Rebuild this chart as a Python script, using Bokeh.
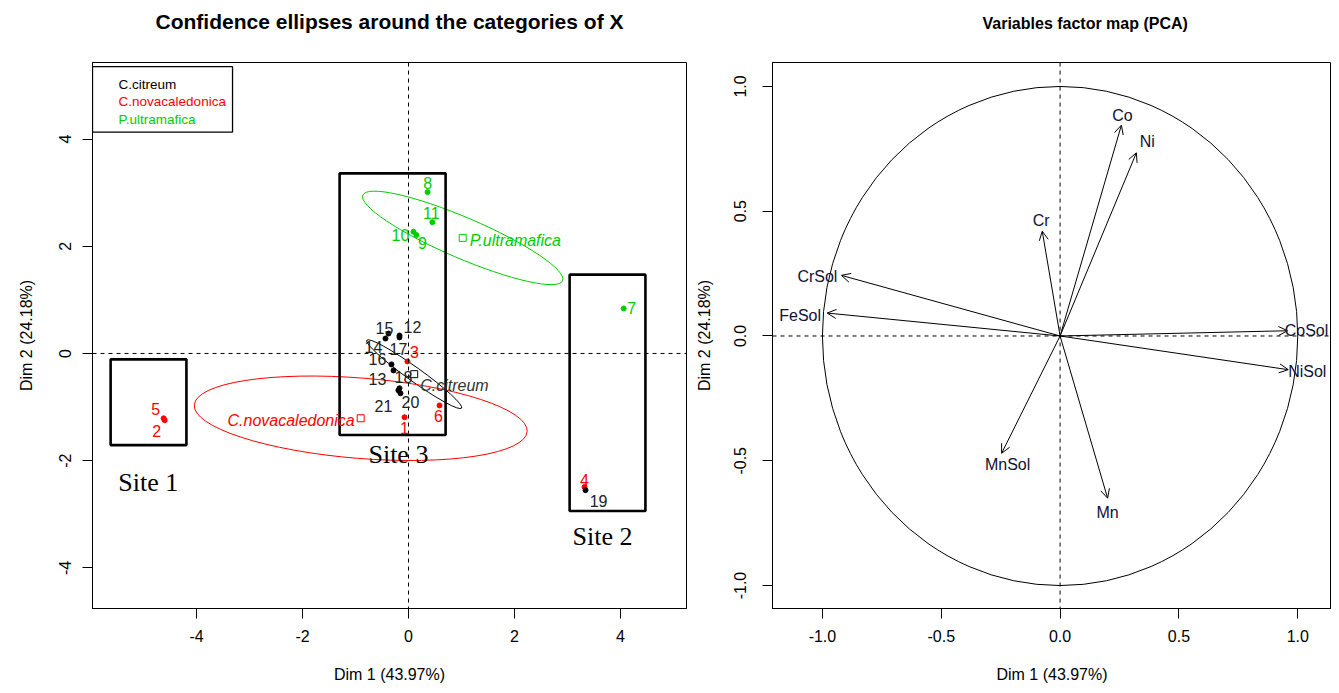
import numpy as np
from bokeh.plotting import figure
from bokeh.models import (Range1d, FixedTicker, PrintfTickFormatter, Span, ColumnDataSource,
                          LabelSet, Label, Arrow, OpenHead)
from bokeh.layouts import row
from bokeh.embed import file_html
from bokeh.resources import INLINE
from bokeh.core.properties import value

# ---------------- data: individuals (left panel) ----------------
ind_id = [str(i) for i in range(1, 22)]
ind_group = (["C.novacaledonica"] * 6 + ["P.ultramafica"] * 5 + ["C.citreum"] * 10)
ind_x = [-0.075, -4.60, -0.02, 3.32, -4.62, 0.585,
         4.06, 0.36, 0.15, 0.094, 0.45,
         -0.17, -0.283, -0.434, -0.377, -0.321, -0.17, -0.17, 3.34, -0.151, -0.19]
ind_y = [-1.19, -1.245, -0.149, -2.49, -1.21, -0.97,
         0.84, 3.01, 2.21, 2.27, 2.45,
         0.335, -0.316, 0.279, 0.372, -0.204, 0.30, -0.65, -2.55, -0.743, -0.688]
# label placement (screen px, +dy = down)
lab_dx = [0, -8, 7, 0, -8, -1, 8, 0, 6, -13, -1, 13, -16, -12, -4, -14, -1, 4, 13, 10, -15]
lab_dy = [11, 11, -9, -7, -9, 11, 0, -9, 8, 3, -9, -9, 9, 8, -6, -5, 12, -11, 11, 9, 16]

groups = ["C.citreum", "C.novacaledonica", "P.ultramafica"]
group_colors = ["#000000", "#FF0000", "#00CD00"]
# confidence ellipse shapes (data units) and orientation (degrees)
ell_width = [2.2, 6.3, 4.1]
ell_height = [0.26, 1.50, 0.76]
ell_angle_deg = [-35.6, -4.6, -23.2]
grp_lab_dx = [3, -3, 4]
grp_lab_dy = [11, 2, 3]
grp_lab_align = ["left", "right", "left"]

sites = ["Site 1", "Site 2", "Site 3"]
site_left = [-5.62, 3.04, -1.30]
site_right = [-4.19, 4.47, 0.70]
site_top = [-0.11, 1.47, 3.36]
site_bottom = [-1.71, -2.94, -1.52]
site_label_x = [-4.91, 3.66, -0.19]
site_label_y = [-2.40, -3.42, -1.88]

left_ticks = [-4, -2, 0, 2, 4]

# ---------------- data: variables (right panel) ----------------
var_names = ["Co", "Ni", "Cr", "CrSol", "FeSol", "CoSol", "NiSol", "MnSol", "Mn"]
var_x = [0.258, 0.321, -0.075, -0.92, -0.98, 0.957, 0.96, -0.246, 0.20]
var_y = [0.845, 0.734, 0.42, 0.243, 0.092, 0.021, -0.135, -0.47, -0.65]
var_lab_dx = [1, 11, -1, -24, -27, 19, 19, 6, 0]
var_lab_dy = [-10, -11, -11, 1, 2, 0, 2, 11, 14]
right_ticks = [-1.0, -0.5, 0.0, 0.5, 1.0]

FONT = "Liberation Sans"
SERIF = "Liberation Serif"


def style(p, ticks, fmt, tick_standoff_y, label_standoff_y):
    p.xgrid.visible = False
    p.ygrid.visible = False
    p.outline_line_color = "black"
    p.outline_line_width = 1
    p.outline_line_alpha = 1
    p.background_fill_color = "white"
    p.border_fill_color = "white"
    for ax in (p.xaxis[0], p.yaxis[0]):
        ax.ticker = FixedTicker(ticks=ticks)
        ax.formatter = PrintfTickFormatter(format=fmt)
        ax.minor_tick_line_color = None
        ax.major_tick_in = 0
        ax.major_tick_out = 10
        ax.axis_line_color = "black"
        ax.major_tick_line_color = "black"
        ax.major_label_text_font = FONT
        ax.major_label_text_font_size = "16px"
        ax.major_label_text_color = "black"
        ax.axis_label_text_font = FONT
        ax.axis_label_text_font_size = "16px"
        ax.axis_label_text_font_style = "normal"
        ax.axis_label_text_color = "black"
    p.xaxis[0].major_label_standoff = 11
    p.xaxis[0].axis_label_standoff = 21
    p.yaxis[0].major_label_orientation = "vertical"
    p.yaxis[0].major_label_standoff = tick_standoff_y
    p.yaxis[0].axis_label_standoff = label_standoff_y
    p.title.text_font = FONT
    p.title.text_font_style = "bold"
    p.title.text_color = "black"
    p.title.vertical_align = "top"


H = 685
TOP = 62
FRAME_H = 548
# ---------------- left figure ----------------
p1 = figure(width=692, height=H, output_backend="svg", toolbar_location=None,
            x_range=Range1d(-5.962, 5.245), y_range=Range1d(-4.758, 5.428),
            min_border_left=92, min_border_right=6, min_border_top=TOP,
            min_border_bottom=H - TOP - FRAME_H,
            title="Confidence ellipses around the categories of X\n",
            x_axis_label="Dim 1 (43.97%)", y_axis_label="Dim 2 (24.18%)")
style(p1, left_ticks, "%d", 11, 22)
p1.title.align = "center"
p1.title.text_font_size = "21px"
p1.title.standoff = 10

p1.add_layout(Span(location=0, dimension="height", line_color="black", line_dash="4 4", line_width=1))
p1.add_layout(Span(location=0, dimension="width", line_color="black", line_dash="4 4", line_width=1))

col_of = dict(zip(groups, group_colors))
ind_col = [col_of[g] for g in ind_group]
ind_lab_col = ["#222222" if c == "#000000" else c for c in ind_col]

# ellipses centred on group means
gx = np.array(ind_x)
gy = np.array(ind_y)
gg = np.array(ind_group)
cen_x = [float(gx[gg == g].mean()) for g in groups]
cen_y = [float(gy[gg == g].mean()) for g in groups]
ell_src = ColumnDataSource(dict(x=cen_x, y=cen_y, w=ell_width, h=ell_height,
                                a=[np.deg2rad(a) for a in ell_angle_deg], c=group_colors))
p1.ellipse(x="x", y="y", width="w", height="h", angle="a", source=ell_src,
           fill_color=None, line_color="c", line_width=1)
p1.scatter(x="x", y="y", source=ell_src, marker="square", size=7, fill_color="white",
           line_color="c", line_width=1)
for i, g in enumerate(groups):
    p1.add_layout(Label(x=cen_x[i], y=cen_y[i], text=g,
                        x_offset=grp_lab_dx[i] + (3 if grp_lab_align[i] == "left" else -3),
                        y_offset=-grp_lab_dy[i], text_align=grp_lab_align[i], text_baseline="middle",
                        text_color="#333333" if group_colors[i] == "#000000" else group_colors[i],
                        text_font=FONT, text_font_style="italic", text_font_size="16px"))

ind_src = ColumnDataSource(dict(x=ind_x, y=ind_y, c=ind_col, lc=ind_lab_col, t=ind_id,
                                dx=lab_dx, dy=[-d for d in lab_dy]))
p1.scatter(x="x", y="y", source=ind_src, size=5, color="c", marker="circle")
p1.add_layout(LabelSet(x="x", y="y", text="t", source=ind_src, x_offset="dx", y_offset="dy",
                       text_color="lc", text_align="center", text_baseline="middle",
                       text_font=value(FONT), text_font_size="16px"))

# site boxes
p1.quad(left=site_left, right=site_right, top=site_top, bottom=site_bottom,
        fill_color=None, line_color="black", line_width=2.6)
site_src = ColumnDataSource(dict(x=site_label_x, y=site_label_y, t=sites))
p1.add_layout(LabelSet(x="x", y="y", text="t", source=site_src, text_align="center",
                       text_baseline="middle", text_color="black",
                       text_font=value(SERIF), text_font_size="26px"))

# legend box (top-left, text only)
p1.quad(left=[-5.962], right=[-3.32], top=[5.35], bottom=[4.13], fill_color="white",
        line_color="black", line_width=1.3)
leg_y = [5.02, 4.70, 4.37]
for i, g in enumerate(groups):
    p1.add_layout(Label(x=-5.47, y=leg_y[i], text=g, text_align="left", text_baseline="middle",
                        text_color=group_colors[i], text_font=FONT, text_font_size="13.5px"))

# ---------------- right figure ----------------
p2 = figure(width=639, height=H, output_backend="svg", toolbar_location=None,
            x_range=Range1d(-1.21, 1.142), y_range=Range1d(-1.092, 1.096),
            min_border_left=75, min_border_right=0, min_border_top=TOP,
            min_border_bottom=H - TOP - FRAME_H,
            title="Variables factor map (PCA)\n",
            x_axis_label="Dim 1 (43.97%)", y_axis_label="Dim 2 (24.18%)")
style(p2, right_ticks, "%.1f", 16, 19)
p2.title.align = "left"
p2.title.offset = 210
p2.title.text_font_size = "16px"
p2.title.standoff = 24

p2.add_layout(Span(location=0, dimension="height", line_color="black", line_dash="4 4", line_width=1))
p2.add_layout(Span(location=0, dimension="width", line_color="black", line_dash="4 4", line_width=1))
p2.ellipse(x=[0], y=[0], width=[2], height=[2], fill_color=None, line_color="black", line_width=1)

n = len(var_names)
var_src = ColumnDataSource(dict(x0=[0.0] * n, y0=[0.0] * n, x1=var_x, y1=var_y, t=var_names,
                                dx=var_lab_dx, dy=[-d for d in var_lab_dy]))
p2.add_layout(Arrow(end=OpenHead(size=9, line_width=1, line_color="black"),
                    x_start="x0", y_start="y0", x_end="x1", y_end="y1", source=var_src,
                    line_color="black", line_width=1))
p2.add_layout(LabelSet(x="x1", y="y1", text="t", source=var_src, x_offset="dx", y_offset="dy",
                       text_align="center", text_baseline="middle", text_color="#111133",
                       text_font=value(FONT), text_font_size="16px"))

layout = row(p1, p2)
open("out.html", "w").write(file_html(layout, INLINE))
